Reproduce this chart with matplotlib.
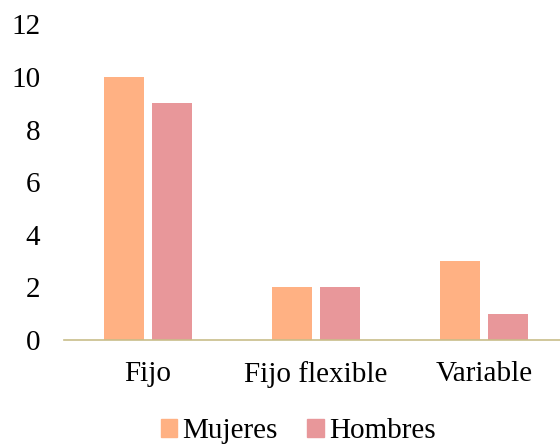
import matplotlib.pyplot as plt
import numpy as np
from matplotlib.patches import Patch

categories = ["Fijo", "Fijo flexible", "Variable"]
mujeres = [10, 2, 3]
hombres = [9, 2, 1]
yticks = [0, 2, 4, 6, 8, 10, 12]

c_muj = "#FFB183"
c_hom = "#E8979A"
c_axis = "#C8BD8A"

plt.rcParams["font.family"] = ["Liberation Serif", "DejaVu Serif"]

fig = plt.figure(figsize=(5.6, 4.44), dpi=100)
ax = fig.add_axes([64 / 560, 104 / 444, 496 / 560, 315.6 / 444])

x = np.arange(len(categories))
w = 0.235
off = 0.143
ax.bar(x - off, mujeres, w, color=c_muj, label="Mujeres")
ax.bar(x + off, hombres, w, color=c_hom, label="Hombres")

ax.set_xlim(-0.5, 2.452)
ax.set_ylim(0, 12)
ax.set_yticks(yticks)
ax.set_xticks(x)
ax.set_xticklabels(categories)
ax.tick_params(axis="y", length=0, pad=17, labelsize=21)
ax.tick_params(axis="x", length=0, pad=15, labelsize=21)
for s in ["top", "right", "left"]:
    ax.spines[s].set_visible(False)
ax.spines["bottom"].set_color(c_axis)
ax.spines["bottom"].set_linewidth(1.2)

handles = [Patch(color=c_muj, label="Mujeres"), Patch(color=c_hom, label="Hombres")]
fig.legend(handles=handles, loc="center", bbox_to_anchor=(298 / 560, 1 - 431 / 444),
           ncol=2, frameon=False, fontsize=21, handlelength=0.58, handleheight=0.58,
           handletextpad=0.17, columnspacing=1.0, borderaxespad=0, borderpad=0)

fig.savefig("out.png", dpi=100)
